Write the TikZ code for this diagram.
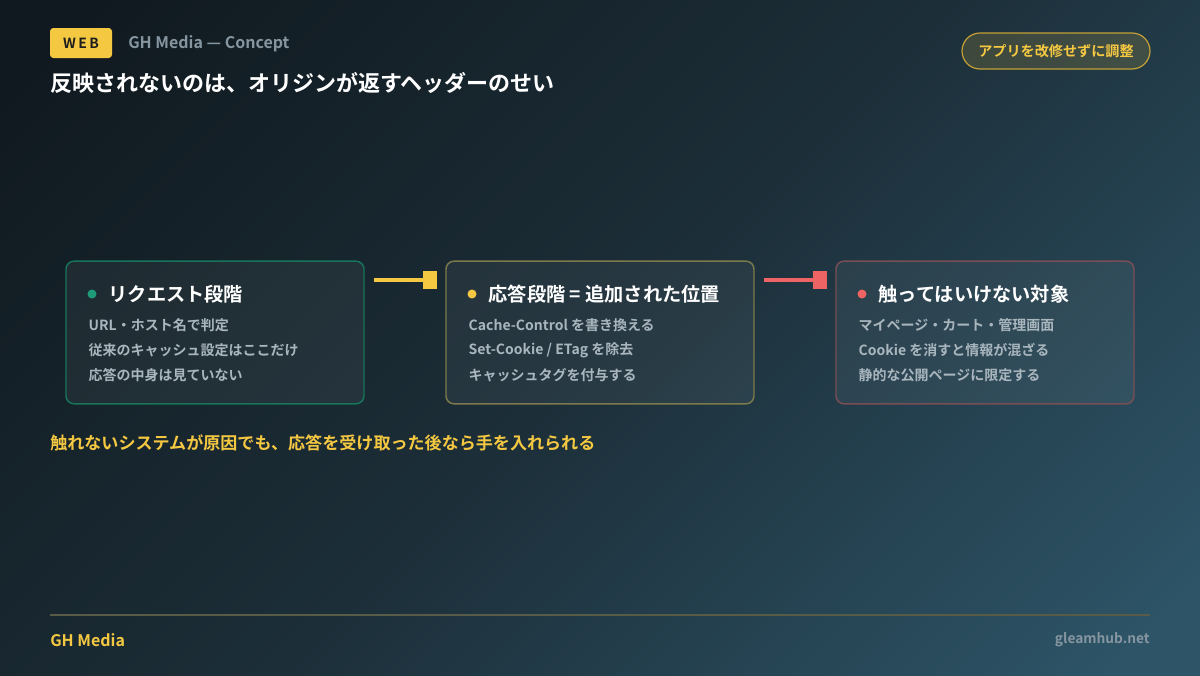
\documentclass[tikz,border=0pt]{standalone}
\usepackage{fontspec}
\setmainfont{Noto Sans CJK JP}[BoldFont={Noto Sans CJK JP Bold}]
\definecolor{ylw}{HTML}{F5C842}
\definecolor{grn}{HTML}{1E9C7A}
\definecolor{red}{HTML}{EE6464}
\definecolor{txt}{HTML}{A9B6BE}
\definecolor{sub}{HTML}{8696A0}
\definecolor{bgA}{HTML}{10191F}
\definecolor{bgM}{HTML}{1C2E38}
\definecolor{bgB}{HTML}{2D5467}
\definecolor{olv}{HTML}{7C7A4A}
\definecolor{ros}{HTML}{7A4E55}
\definecolor{fline}{HTML}{585C46}
\definecolor{dark}{HTML}{1E1E1E}
\begin{document}
\begin{tikzpicture}[x=0.75pt,y=-0.75pt,
  box/.style={draw, rounded corners=6pt, line width=1.1pt, fill=white, fill opacity=0.05, text opacity=1},
  ttl/.style={anchor=west, text=white, font=\bfseries\fontsize{14.4}{16}\selectfont},
  ln/.style={anchor=west, text=txt, font=\bfseries\fontsize{10.5}{12}\selectfont},
  conn/.style={line width=2.3pt}]
\begin{scope}
\clip (0,0) rectangle (1200,675);
\shade[top color=bgA, bottom color=bgB, middle color=bgM, shading angle=45] (0,-262.5) rectangle (1200,937.5);
\end{scope}
\useasboundingbox (0,0) rectangle (1200,675);
% header
\node[fill=ylw, rounded corners=2.5pt, minimum width=46.5pt, minimum height=22.5pt, inner sep=0pt, font=\bfseries\fontsize{10.5}{11}\selectfont, text=dark] (web) at (81,43) {W\,E\,B};
\node[anchor=west, text=sub, font=\bfseries\fontsize{12}{13}\selectfont, inner sep=0pt] (kick) at (128,44) {GH Media — Concept};
\node[anchor=west, text=white, font=\bfseries\fontsize{16.5}{18}\selectfont, inner sep=0pt] (title) at (50,83) {反映されないのは、オリジンが返すヘッダーのせい};
\node[draw=ylw!80!black, line width=0.9pt, fill=ylw, fill opacity=0.15, text opacity=1, rounded corners=13.5pt, minimum width=141pt, minimum height=27pt, inner sep=0pt, text=ylw, font=\bfseries\fontsize{10.6}{11}\selectfont] (pill) at (1056,51) {アプリを改修せずに調整};
% boxes
\node[box, draw=grn!75!black, minimum width=223.5pt, minimum height=107pt] (b1) at (215,332.5) {};
\node[box, draw=olv, minimum width=231pt, minimum height=107pt] (b2) at (600,332.5) {};
\node[box, draw=ros, minimum width=223.5pt, minimum height=107pt] (b3) at (985,332.5) {};
% box1
\fill[grn] (92,294) circle (4.5);
\node[ttl] (t1) at (104,294) {リクエスト段階};
\node[ln] (l11) at (84,325) {URL・ホスト名で判定};
\node[ln] (l12) at (84,350) {従来のキャッシュ設定はここだけ};
\node[ln] (l13) at (84,375) {応答の中身は見ていない};
% box2
\fill[ylw] (472,294) circle (4.5);
\node[ttl] (t2) at (484,294) {応答段階 = 追加された位置};
\node[ln] (l21) at (464,325) {Cache-Control を書き換える};
\node[ln] (l22) at (464,350) {Set-Cookie / ETag を除去};
\node[ln] (l23) at (464,375) {キャッシュタグを付与する};
% box3
\fill[red] (862,294) circle (4.5);
\node[ttl] (t3) at (874,294) {触ってはいけない対象};
\node[ln] (l31) at (854,325) {マイページ・カート・管理画面};
\node[ln] (l32) at (854,350) {Cookie を消すと情報が混ざる};
\node[ln] (l33) at (854,375) {静的な公開ページに限定する};
% connectors
\coordinate (c1a) at (374,280); \coordinate (c1b) at (424,280);
\coordinate (c2a) at (764,280); \coordinate (c2b) at (814,280);
\draw[conn, ylw] (c1a) -- (c1b);
\fill[ylw] (423,271) rectangle (437,289);
\draw[conn, red] (c2a) -- (c2b);
\fill[red] (813,271) rectangle (827,289);
% note
\node[anchor=west, inner sep=0pt, text=ylw, font=\bfseries\fontsize{12.8}{14}\selectfont] (note) at (50,443) {触れないシステムが原因でも、応答を受け取った後なら手を入れられる};
% footer
\draw[line width=0.8pt, fline] (50,615) -- (1150,615);
\node[anchor=west, inner sep=0pt, text=ylw, font=\bfseries\fontsize{12}{13}\selectfont] (fl) at (50,640) {GH Media};
\node[anchor=east, inner sep=0pt, text=sub, font=\bfseries\fontsize{10.3}{12}\selectfont] (fr) at (1150,640) {gleamhub.net};
\end{tikzpicture}
\end{document}
